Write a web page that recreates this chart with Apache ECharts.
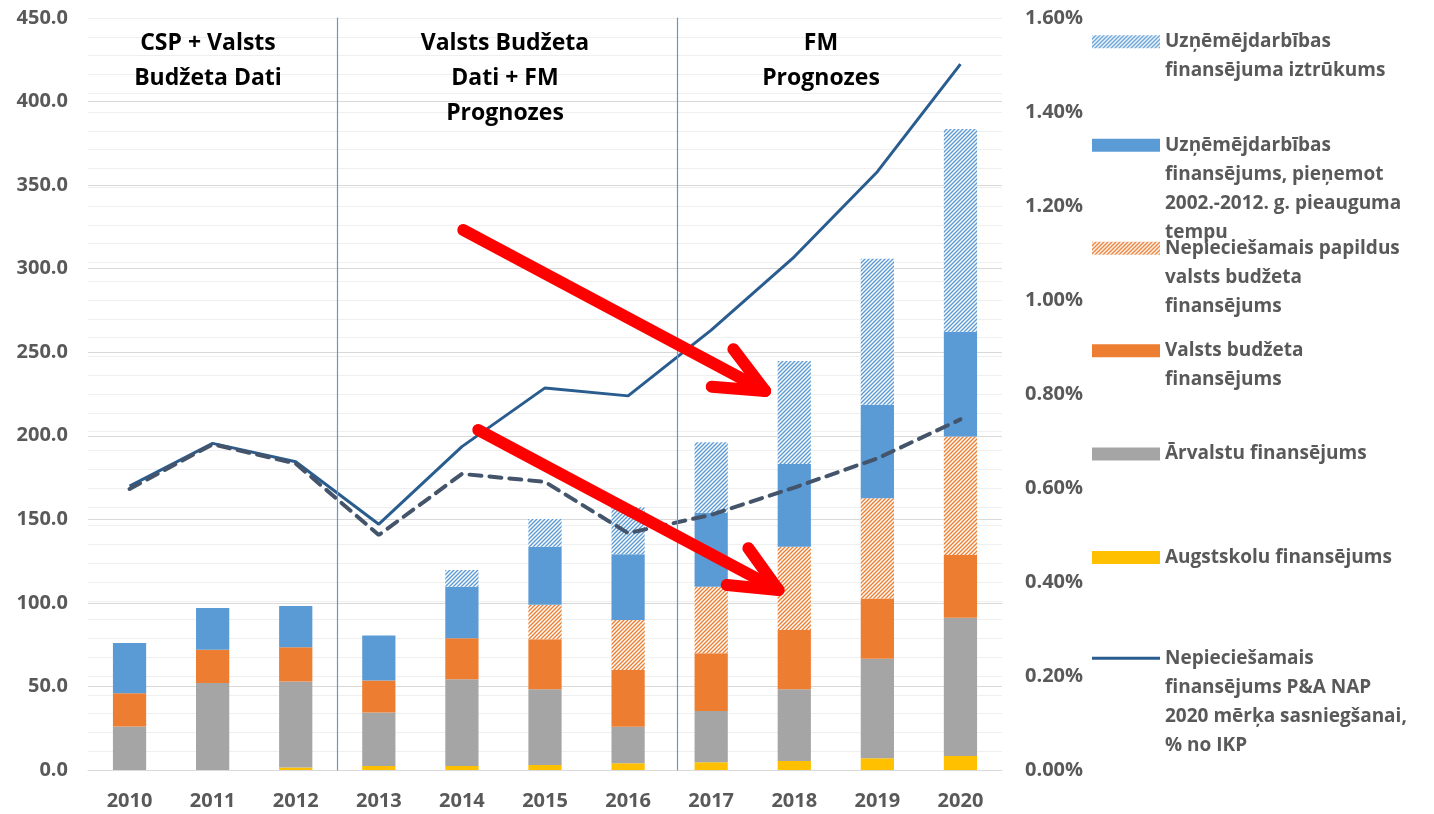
<!DOCTYPE html>
<html><head><meta charset="utf-8">
<script src="https://cdn.jsdelivr.net/npm/echarts@6/dist/echarts.min.js"></script>
<style>html,body{margin:0;padding:0;background:#fff}#c{width:1434px;height:814px}</style>
</head><body><div id="c"></div>
<script>
// ---- data ----
const years = ['2010','2011','2012','2013','2014','2015','2016','2017','2018','2019','2020'];
const augstskolu      = [0, 0, 1.5, 2.4, 2.4, 3.0, 4.0, 4.6, 5.4, 7.0, 8.4];
const arvalstu        = [26, 52, 51.5, 32, 51.9, 45.3, 21.9, 30.7, 42.9, 59.6, 82.7];
const valstsBudzets   = [20, 20, 20.5, 19.2, 24.5, 29.9, 33.9, 34.5, 35.5, 36.1, 37.6];
const papildusBudzets = [0, 0, 0, 0, 0, 20.7, 30, 39.9, 49.8, 59.9, 70.8];
const uznemejdarbiba  = [30, 25, 24.7, 26.9, 30.9, 34.7, 39.3, 44.3, 49.5, 56, 62.8];
const iztrukums       = [0, 0, 0, 0, 10, 16.6, 28.1, 42.1, 61.7, 87.4, 121.3];
const napMerkis       = [0.604, 0.695, 0.656, 0.523, 0.688, 0.813, 0.796, 0.936, 1.092, 1.273, 1.502];
const faktiskais      = [0.598, 0.693, 0.652, 0.500, 0.630, 0.613, 0.504, 0.543, 0.601, 0.663, 0.746];

const seriesNames = [
  'Uzņēmējdarbības finansējuma iztrūkums',
  'Uzņēmējdarbības finansējums, pieņemot 2002.-2012. g. pieauguma tempu',
  'Nepieciešamais papildus valsts budžeta finansējums',
  'Valsts budžeta finansējums',
  'Ārvalstu finansējums',
  'Augstskolu finansējums',
  'Nepieciešamais finansējums P&A NAP 2020 mērķa sasniegšanai, % no IKP'
];
const legendLines = [
  ['Uzņēmējdarbības', 'finansējuma iztrūkums'],
  ['Uzņēmējdarbības', 'finansējums, pieņemot', '2002.-2012. g. pieauguma', 'tempu'],
  ['Nepieciešamais papildus', 'valsts budžeta', 'finansējums'],
  ['Valsts budžeta', 'finansējums'],
  ['Ārvalstu finansējums'],
  ['Augstskolu finansējums'],
  ['Nepieciešamais', 'finansējums P&A NAP', '2020 mērķa sasniegšanai,', '% no IKP']
];
const sectionTitles = ['CSP + Valsts\nBudžeta Dati', 'Valsts Budžeta\nDati + FM\nPrognozes', 'FM\nPrognozes'];
const dashedName = 'Faktiskais finansējums, % no IKP';

// ---- styles ----
const FONT = '"Open Sans", Lato, sans-serif';
const GRAY_TXT = '#595959';
function hatch(color) {
  const c = document.createElement('canvas');
  c.width = 4; c.height = 4;
  const g = c.getContext('2d');
  g.fillStyle = '#ffffff'; g.fillRect(0, 0, 4, 4);
  g.strokeStyle = color; g.lineWidth = 1.4;
  g.beginPath();
  g.moveTo(0, 4); g.lineTo(4, 0);
  g.moveTo(-1, 1); g.lineTo(1, -1);
  g.moveTo(3, 5); g.lineTo(5, 3);
  g.stroke();
  return { image: c, repeat: 'repeat' };
}
const BLUE = '#5B9BD5', ORANGE = '#ED7D31', GRAYC = '#A5A5A5', YELLOW = '#FFC000';
const LINE_BLUE = '#2A5D8F', DASH_COL = '#44546A';

function bar(name, data, color) {
  return { name, type: 'bar', stack: 'f', data, barWidth: '40%', itemStyle: { color }, xAxisIndex: 0, yAxisIndex: 0 };
}

const chart = echarts.init(document.getElementById('c'));
const iconCenters = [41.7, 145.3, 248.3, 350.8, 454, 557.5, 658.3];
const LH = 29;
const legends = seriesNames.map((nm, i) => {
  const n = legendLines[i].length;
  const L = 2 * n - 1;
  const isLine = i === 6;
  const lg = {
    data: [nm],
    orient: 'vertical',
    left: 1092,
    top: iconCenters[i] - L * LH / 2,
    padding: 0,
    itemWidth: 68,
    itemHeight: isLine ? 3 : 13,
    itemGap: 0,
    selectedMode: false,
    icon: 'rect',
    formatter: () => '\n'.repeat(n - 1) + legendLines[i].join('\n'),
    textStyle: { fontFamily: FONT, fontWeight: 'bold', fontSize: 19, color: GRAY_TXT, lineHeight: LH }
  };
  if (isLine) lg.itemStyle = { color: LINE_BLUE };
  return lg;
});

const sepStyle = { color: '#5B9BD5', width: 1.2, type: 'solid', opacity: 1 };
const arrowStyle = { color: '#FF0000', width: 12, type: 'solid', cap: 'round' };

const option = {
  animation: false,
  backgroundColor: '#ffffff',
  grid: { left: 88, right: 432, top: 18, bottom: 44 },
  legend: legends,
  xAxis: [
    { type: 'category', data: years, axisTick: { show: false },
      axisLine: { lineStyle: { color: '#D9D9D9', width: 1 } },
      axisLabel: { fontFamily: FONT, fontWeight: 'bold', fontSize: 20, color: GRAY_TXT, margin: 21 } },
    { type: 'value', min: 0, max: 11, show: false }
  ],
  yAxis: [
    { type: 'value', min: 0, max: 450, interval: 50,
      axisLine: { show: false }, axisTick: { show: false },
      splitLine: { lineStyle: { color: '#D9D9D9', width: 1 } },
      axisLabel: { fontFamily: FONT, fontWeight: 'bold', fontSize: 20, color: GRAY_TXT, margin: 20, formatter: v => v.toFixed(1) } },
    { type: 'value', min: 0, max: 1.6, interval: 0.2, position: 'right',
      axisLine: { show: false }, axisTick: { show: false },
      minorTick: { show: false, splitNumber: 5 },
      splitLine: { show: true, lineStyle: { color: '#EFEFEF', width: 1 } },
      minorSplitLine: { show: true, lineStyle: { color: '#EFEFEF', width: 1 } },
      axisLabel: { fontFamily: FONT, fontWeight: 'bold', fontSize: 20, color: GRAY_TXT, margin: 23, align: 'left', formatter: v => v.toFixed(2) + '%' } }
  ],
  graphic: [
    { type: 'text', x: 208, y: 26, z: 100, style: { text: sectionTitles[0], font: 'bold 23px ' + FONT, fill: '#000', textAlign: 'center', lineHeight: 35 } },
    { type: 'text', x: 505, y: 26, z: 100, style: { text: sectionTitles[1], font: 'bold 23px ' + FONT, fill: '#000', textAlign: 'center', lineHeight: 35 } },
    { type: 'text', x: 821, y: 26, z: 100, style: { text: sectionTitles[2], font: 'bold 23px ' + FONT, fill: '#000', textAlign: 'center', lineHeight: 35 } }
  ],
  series: [
    bar(seriesNames[5], augstskolu, YELLOW),
    bar(seriesNames[4], arvalstu, GRAYC),
    bar(seriesNames[3], valstsBudzets, ORANGE),
    bar(seriesNames[2], papildusBudzets, hatch(ORANGE)),
    bar(seriesNames[1], uznemejdarbiba, BLUE),
    bar(seriesNames[0], iztrukums, hatch(BLUE)),
    { name: seriesNames[6], type: 'line', data: napMerkis, xAxisIndex: 0, yAxisIndex: 1, symbol: 'none', z: 5,
      lineStyle: { color: LINE_BLUE, width: 3 }, itemStyle: { color: LINE_BLUE } },
    { name: dashedName, type: 'line', data: faktiskais, xAxisIndex: 0, yAxisIndex: 1, symbol: 'none', z: 5,
      lineStyle: { color: DASH_COL, width: 4, type: [12, 8], cap: 'round' }, itemStyle: { color: DASH_COL } },
    { name: 'annotations', type: 'line', data: [], xAxisIndex: 1, yAxisIndex: 0, z: 20, silent: true,
      itemStyle: { color: '#FF0000' },
      markLine: { silent: true, symbol: 'none', label: { show: false }, animation: false, z: 20,
        lineStyle: arrowStyle,
        data: [
          [{ coord: [3.0, 0], lineStyle: sepStyle }, { coord: [3.0, 450], lineStyle: sepStyle }],
          [{ coord: [7.09, 0], lineStyle: sepStyle }, { coord: [7.09, 450], lineStyle: sepStyle }],
          [{ coord: [4.516, 323.1] }, { coord: [8.149, 226.8] }],
          [{ coord: [7.767, 251.8] }, { coord: [8.149, 226.8] }],
          [{ coord: [7.507, 229.4] }, { coord: [8.149, 226.8] }],
          [{ coord: [4.697, 203.5] }, { coord: [8.309, 107.7] }],
          [{ coord: [7.948, 132.7] }, { coord: [8.309, 107.7] }],
          [{ coord: [7.688, 110.7] }, { coord: [8.309, 107.7] }]
        ] } }
  ]
};
chart.setOption(option);
</script>
</body></html>
